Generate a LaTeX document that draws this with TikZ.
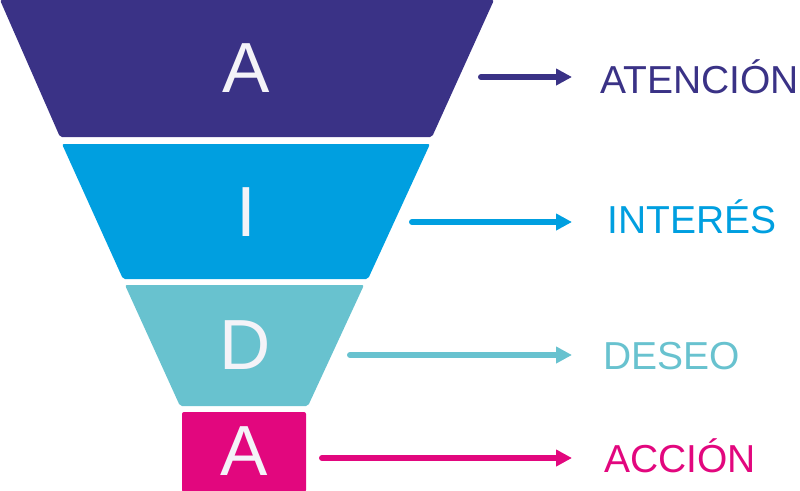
\documentclass[tikz,border=0pt]{standalone}
\usepackage{fontspec}
\setmainfont{Liberation Sans}
\usetikzlibrary{arrows.meta}
\definecolor{atencion}{HTML}{3A3286}
\definecolor{interes}{HTML}{009FE0}
\definecolor{deseo}{HTML}{68C2CF}
\definecolor{accion}{HTML}{E2077E}
\definecolor{letra}{HTML}{F4F3F8}
\tikzset{
  band/.style={rounded corners=2pt},
  letter/.style={text=letra,font=\fontsize{71}{71}\selectfont,inner sep=0pt},
  stage/.style={font=\fontsize{39}{39}\selectfont,inner sep=0pt,anchor=west},
  stagearrow/.style={line width=6pt,line cap=round,-{Triangle[length=16pt,width=16pt]}},
}
\begin{document}
\begin{tikzpicture}[x=1pt,y=-1pt,line join=miter]
\useasboundingbox (0,0) rectangle (800,490);
%%
\fill [atencion,band] (0,0) -- (494,0) -- (432,137) -- (60,137) -- cycle;
\fill [interes,band] (62,144) -- (430,144) -- (368,279) -- (123,279) -- cycle;
\fill [deseo,band] (125,285) -- (364,285) -- (308,406) -- (180,406) -- cycle;
\fill [accion,band] (182,412) rectangle (306,492);
%%
\node (letter_1) at (246,68.5) [letter] {A};
\node (letter_2) at (246,212.5) [letter] {I};
\node (letter_3) at (245,345.5) [letter] {D};
\node (letter_4) at (244,451) [letter] {A};
%%
\node (stage_1) at (600,77) [stage,text=atencion] {ATENCIÓN};
\node (stage_2) at (607,217) [stage,text=interes] {INTERÉS};
\node (stage_3) at (603,356) [stage,text=deseo] {DESEO};
\node (stage_4) at (604,456) [stage,text=accion] {ACCIÓN};
%%
\coordinate (start_1) at (481,77);
\coordinate (start_2) at (412,222);
\coordinate (start_3) at (350,355);
\coordinate (start_4) at (322,458);
\coordinate (tips) at (572,0);
\draw [atencion,stagearrow] (start_1) -- (start_1 -| tips);
\draw [interes,stagearrow] (start_2) -- (start_2 -| tips);
\draw [deseo,stagearrow] (start_3) -- (start_3 -| tips);
\draw [accion,stagearrow] (start_4) -- (start_4 -| tips);
%
\end{tikzpicture}
\end{document}
